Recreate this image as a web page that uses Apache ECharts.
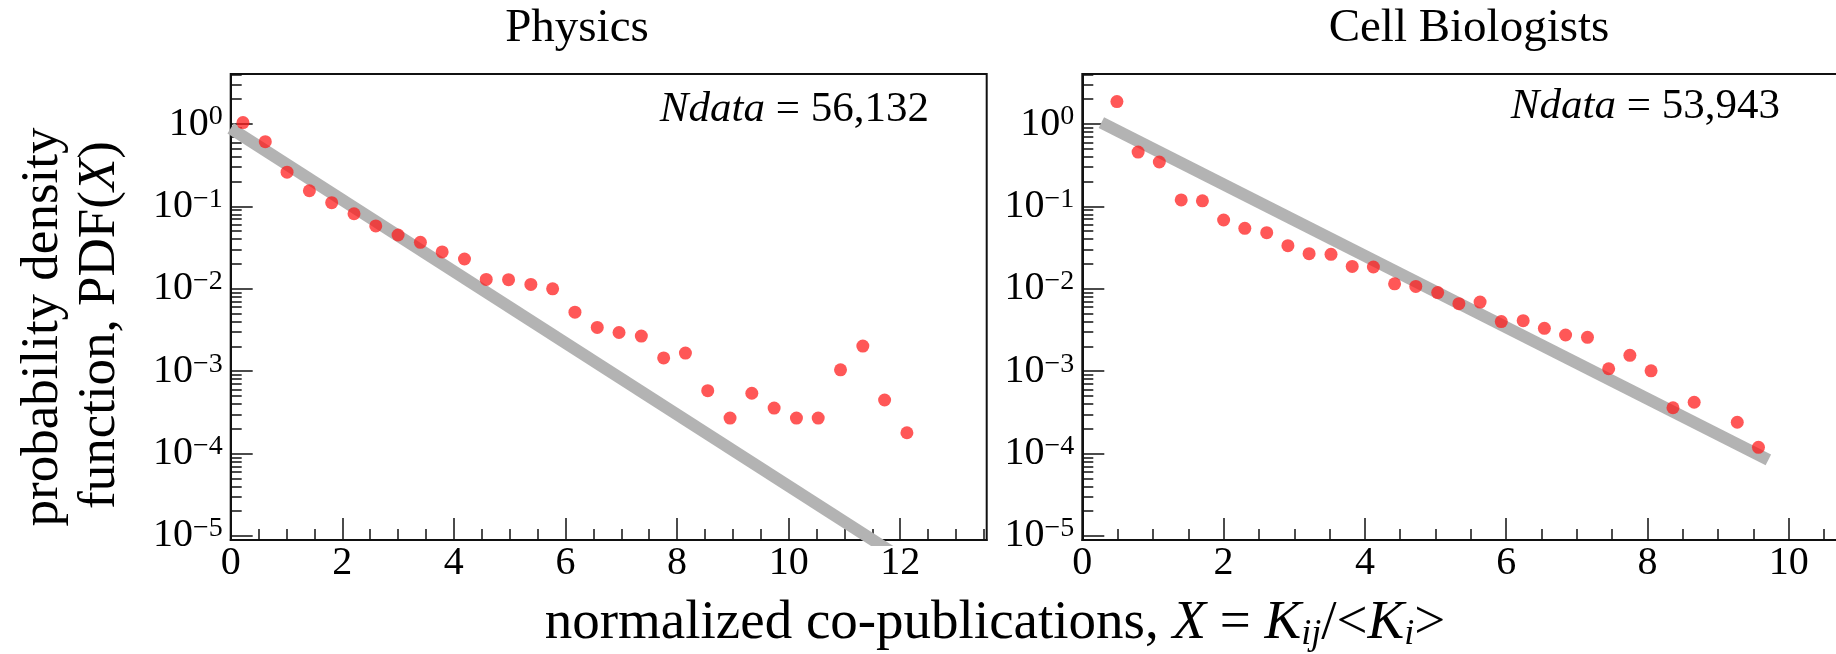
<!DOCTYPE html>
<html><head><meta charset="utf-8">
<script src="https://cdn.jsdelivr.net/npm/echarts@6/dist/echarts.min.js"></script>
<style>html,body{margin:0;padding:0;background:#fff}#c{width:1836px;height:654px}</style>
</head><body><div id="c"></div>
<script>
// ---------- data ----------
const physicsX = [0.22, 0.62, 1.01, 1.41, 1.81, 2.21, 2.60, 3.00, 3.40, 3.79, 4.19, 4.58, 4.98, 5.38, 5.77, 6.17, 6.57, 6.96, 7.36, 7.76, 8.15, 8.55, 8.95, 9.34, 9.74, 10.14, 10.53, 10.93, 11.33, 11.72, 12.12];
const physicsY = [1.04, 0.61, 0.26, 0.155, 0.111, 0.0815, 0.058, 0.045, 0.0366, 0.028, 0.023, 0.013, 0.0129, 0.0113, 0.0100, 0.0052, 0.0034, 0.00295, 0.00267, 0.00145, 0.00166, 0.00058, 0.00027, 0.00054, 0.000357, 0.00027, 0.00027, 0.00104, 0.00202, 0.000447, 0.000179];
const cellX = [0.49, 0.79, 1.09, 1.40, 1.70, 2.00, 2.30, 2.61, 2.91, 3.21, 3.52, 3.82, 4.12, 4.42, 4.72, 5.03, 5.33, 5.63, 5.93, 6.24, 6.54, 6.84, 7.15, 7.45, 7.75, 8.05, 8.36, 8.66, 9.27, 9.57];
const cellY = [1.87, 0.457, 0.346, 0.120, 0.117, 0.0684, 0.0542, 0.048, 0.0334, 0.0267, 0.0262, 0.0187, 0.0184, 0.0115, 0.0107, 0.0090, 0.0066, 0.0069, 0.0040, 0.0041, 0.00331, 0.00275, 0.00258, 0.00107, 0.00156, 0.00101, 0.00036, 0.00042, 0.00024, 0.000119];
// gray exponential reference lines (end points)
const physicsFitX = [0, 11.9];
const physicsFitY = [0.885, 6.05e-6];
const cellFitX = [0.27, 9.71];
const cellFitY = [1.04, 8.4e-5];
// ticks
const yMajorTicks = [1e-5, 1e-4, 1e-3, 1e-2, 1e-1, 1];
const yMinorMantissas = [2, 3, 4, 5, 6, 7, 8, 9];
const physicsXMajor = [0, 2, 4, 6, 8, 10, 12];
const physicsXMinor = [0.5, 1, 1.5, 2.5, 3, 3.5, 4.5, 5, 5.5, 6.5, 7, 7.5, 8.5, 9, 9.5, 10.5, 11, 11.5, 12.5, 13, 13.5];
const cellXMajor = [0, 2, 4, 6, 8, 10];
const cellXMinor = [0.5, 1, 1.5, 2.5, 3, 3.5, 4.5, 5, 5.5, 6.5, 7, 7.5, 8.5, 9, 9.5, 10.5];
const titles = ['Physics', 'Cell Biologists'];
const ndataLabels = ['56,132', '53,943'];

// ---------- helpers ----------
const FF = '"Liberation Serif", "Times New Roman", serif';
const INK = '#111';
const yMinorTicks = [];
yMajorTicks.concat([10]).forEach(d => yMinorMantissas.forEach(m => {
  const v = m * d / 10;
  if (v > 1e-5 && v < 4.04) yMinorTicks.push(v);
}));
const zip = (xs, ys) => xs.map((x, i) => [x, ys[i]]);
const Y_MIN = 8.94e-6, Y_MAX = 4.045;

function supLabel(v) {
  const e = Math.round(Math.log10(v));
  return '{b|10}{s|' + (e < 0 ? '\u2212' + (-e) : String(e)) + '}';
}

function xAxes(grid, max, major, minor) {
  return [
    { gridIndex: grid, type: 'value', min: 0, max: max, position: 'bottom',
      axisLine: { show: true, onZero: false, lineStyle: { color: INK, width: 2 } },
      axisTick: { show: true, inside: true, length: 22, customValues: major, lineStyle: { color: INK, width: 1.5 } },
      axisLabel: { show: true, customValues: major, fontFamily: FF, fontSize: 40, color: '#000', margin: 3 },
      splitLine: { show: false } },
    { gridIndex: grid, type: 'value', min: 0, max: max, position: 'bottom',
      axisLine: { show: false, onZero: false },
      axisTick: { show: true, inside: true, length: 11, customValues: minor, lineStyle: { color: INK, width: 1.5 } },
      axisLabel: { show: false },
      splitLine: { show: false } }
  ];
}
function yAxes(grid) {
  return [
    { gridIndex: grid, type: 'log', min: Y_MIN, max: Y_MAX, position: 'left',
      axisLine: { show: true, onZero: false, lineStyle: { color: INK, width: 2 } },
      axisTick: { show: true, inside: true, length: 22, customValues: yMajorTicks, lineStyle: { color: INK, width: 1.5 } },
      axisLabel: { show: true, customValues: yMajorTicks, margin: 8, formatter: supLabel,
        rich: { b: { fontFamily: FF, fontSize: 40, color: '#000', lineHeight: 42, verticalAlign: 'middle' },
                s: { fontFamily: FF, fontSize: 28, color: '#000', lineHeight: 26, verticalAlign: 'top' } } },
      splitLine: { show: false } },
    { gridIndex: grid, type: 'log', min: Y_MIN, max: Y_MAX, position: 'left',
      axisLine: { show: false, onZero: false },
      axisTick: { show: true, inside: true, length: 11, customValues: yMinorTicks, lineStyle: { color: INK, width: 1.5 } },
      axisLabel: { show: false },
      splitLine: { show: false } }
  ];
}

const dotStyle = { color: 'rgba(255,22,22,0.9)' };
const fitStyle = { color: '#b3b3b3', width: 12, cap: 'butt' };

const option = {
  animation: false,
  backgroundColor: '#fff',
  grid: [
    { left: 230.7, top: 74, width: 756, height: 466, show: true, borderColor: INK, borderWidth: 2, containLabel: false, outerBoundsMode: 'none' },
    { left: 1082.3, top: 74, width: 777.2, height: 466, show: true, borderColor: INK, borderWidth: 2, containLabel: false, outerBoundsMode: 'none' }
  ],
  xAxis: [].concat(xAxes(0, 13.55, physicsXMajor, physicsXMinor), xAxes(1, 11, cellXMajor, cellXMinor)),
  yAxis: [].concat(yAxes(0), yAxes(1)),
  series: [
    { type: 'line', xAxisIndex: 0, yAxisIndex: 0, data: zip(physicsFitX, physicsFitY), showSymbol: false, symbol: 'none', lineStyle: fitStyle, clip: true, z: 1, silent: true },
    { type: 'scatter', xAxisIndex: 0, yAxisIndex: 0, data: zip(physicsX, physicsY), symbolSize: 13, itemStyle: dotStyle, z: 3, silent: true },
    { type: 'line', xAxisIndex: 2, yAxisIndex: 2, data: zip(cellFitX, cellFitY), showSymbol: false, symbol: 'none', lineStyle: fitStyle, clip: true, z: 1, silent: true },
    { type: 'scatter', xAxisIndex: 2, yAxisIndex: 2, data: zip(cellX, cellY), symbolSize: 13, itemStyle: dotStyle, z: 3, silent: true }
  ],
  graphic: [
    { type: 'text', x: 577, y: 29, style: { text: titles[0], fontFamily: FF, fontSize: 47, fill: '#000', align: 'center', verticalAlign: 'middle' } },
    { type: 'text', x: 1469, y: 29, style: { text: titles[1], fontFamily: FF, fontSize: 47, fill: '#000', align: 'center', verticalAlign: 'middle' } },
    { type: 'text', x: 929, y: 110, style: { text: '{i|Ndata}{n| = ' + ndataLabels[0] + '}', align: 'right', verticalAlign: 'middle', fontFamily: FF, fontSize: 43, fill: '#000',
        rich: { i: { fontFamily: FF, fontSize: 43, fontStyle: 'italic', fill: '#000' }, n: { fontFamily: FF, fontSize: 43, fill: '#000' } } } },
    { type: 'text', x: 1780, y: 107, style: { text: '{i|Ndata}{n| = ' + ndataLabels[1] + '}', align: 'right', verticalAlign: 'middle', fontFamily: FF, fontSize: 43, fill: '#000',
        rich: { i: { fontFamily: FF, fontSize: 43, fontStyle: 'italic', fill: '#000' }, n: { fontFamily: FF, fontSize: 43, fill: '#000' } } } },
    { type: 'text', x: 43, y: 327, rotation: Math.PI / 2, style: { text: 'probability density', fontFamily: FF, fontSize: 53, fill: '#000', align: 'center', verticalAlign: 'middle' } },
    { type: 'text', x: 100, y: 325, rotation: Math.PI / 2, style: { text: '{n|function, PDF(}{i|X}{n|)}', fontFamily: FF, fontSize: 53, fill: '#000', align: 'center', verticalAlign: 'middle',
        rich: { n: { fontFamily: FF, fontSize: 53, fill: '#000' }, i: { fontFamily: FF, fontSize: 53, fontStyle: 'italic', fill: '#000' } } } },
    { type: 'text', x: 995, y: 624, style: { text: '{n|normalized co-publications, }{i|X}{n| = }{i|K}{sb|ij}{n|/<}{i|K}{sb|i}{n|>}', fontFamily: FF, fontSize: 55, fill: '#000', align: 'center', verticalAlign: 'middle',
        rich: { n: { fontFamily: FF, fontSize: 55, fill: '#000', lineHeight: 58 },
                i: { fontFamily: FF, fontSize: 55, fontStyle: 'italic', fill: '#000', lineHeight: 58 },
                sb: { fontFamily: FF, fontSize: 36, fontStyle: 'italic', fill: '#000', lineHeight: 30, verticalAlign: 'bottom' } } } }
  ]
};

const chart = echarts.init(document.getElementById('c'), null, { renderer: 'canvas' });
chart.setOption(option);
</script>
</body></html>
